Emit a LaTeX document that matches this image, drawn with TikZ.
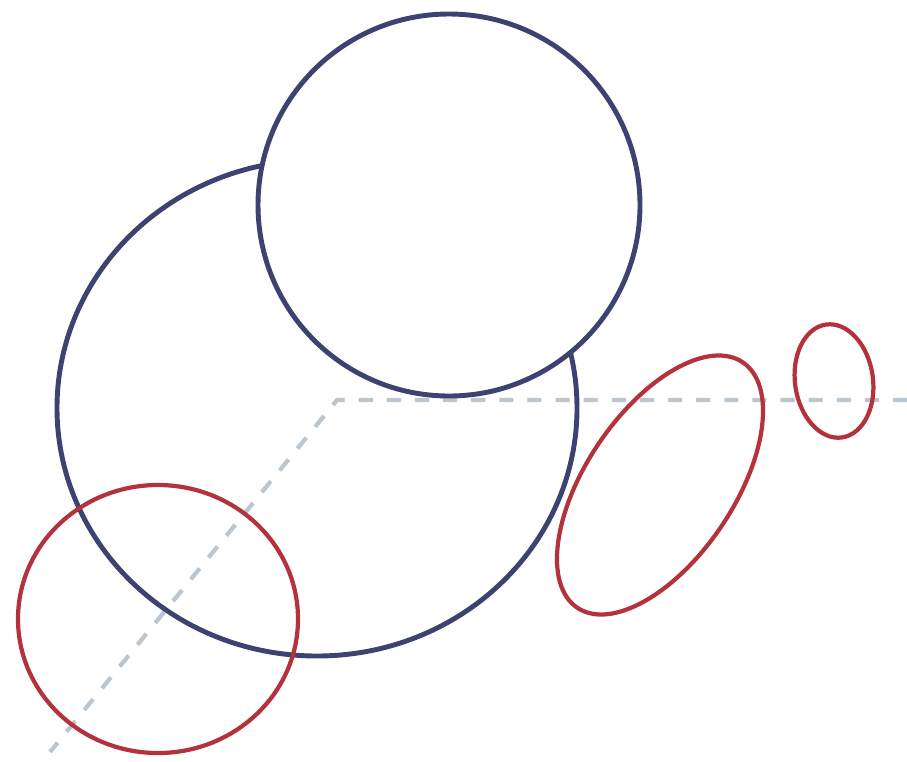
\documentclass[tikz,border=0pt]{standalone}
\usepackage{tikz}

\definecolor{ballblue}{HTML}{3E4270}
\definecolor{ringred}{HTML}{B3323C}
\definecolor{axisgray}{HTML}{BCC6CE}

\begin{document}
\begin{tikzpicture}
\useasboundingbox (0,0) rectangle (9.07,7.61);
\tikzset{axis/.style={axisgray, line width=1.2pt, dash pattern=on 4pt off 4pt},
  ball/.style={ballblue, line width=1.4pt},
  ring/.style={ringred, line width=1.2pt}}

\coordinate (O) at (3.37,3.61);
\coordinate (xend) at (9.07,3.61);
\coordinate (yend) at (0.50,0.09);
\draw[axis] (xend) -- (O) -- (yend);

\coordinate (big) at (3.17,3.53);
\coordinate (small) at (4.49,5.56);
\draw[ball] (big) ellipse [x radius=2.60, y radius=2.48];
\draw[ball, fill=white] (small) circle [radius=1.91];

\coordinate (ringA) at (1.58,1.42);
\coordinate (ringB) at (6.60,2.76);
\coordinate (ringC) at (8.34,3.80);
\draw[ring] (ringA) ellipse [x radius=1.40, y radius=1.34];
\draw[ring, rotate around={56:(ringB)}] (ringB) ellipse [x radius=1.48, y radius=0.74];
\draw[ring, rotate around={8:(ringC)}] (ringC) ellipse [x radius=0.39, y radius=0.57];
\end{tikzpicture}
\end{document}
